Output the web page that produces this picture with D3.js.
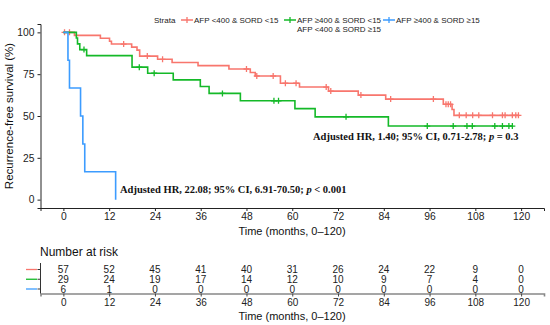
<!DOCTYPE html>
<html>
<head>
<meta charset="utf-8">
<script src="https://cdn.jsdelivr.net/npm/d3@7"></script>
<style>
  body { margin: 0; background: #fff; }
  svg { font-family: "Liberation Sans", Arial, sans-serif; }
</style>
</head>
<body>
<svg id="chart" width="550" height="325"></svg>
<script>
// strata
const strata = ["AFP <400 & SORD <15", "AFP \u2265400 & SORD <15", "AFP \u2265400 & SORD \u226515"];
const colors = ["#F8766D", "#14B928", "#3C9CFF"];

// KM steps: [month, survival % after the drop]
const redSteps = [[0, 100], [2.9, 98.2], [9.7, 96.5], [12.1, 94.7], [12.6, 93.0], [17.9, 91.2], [19.3, 89.4],
  [20.0, 85.8], [24.7, 83.9], [28.5, 82.0], [35.3, 80.1], [43.4, 78.1], [49.0, 76.0], [50.3, 73.9],
  [56.9, 69.6], [61.9, 67.3], [69.5, 64.9], [77.3, 62.5], [84.5, 60.1], [99.6, 57.0], [101.9, 53.9], [102.4, 50.4]];
const greenSteps = [[0, 100], [3.4, 96.6], [3.7, 93.1], [4.3, 89.7], [6.1, 86.1], [18.0, 79.2], [22.1, 75.6],
  [28.8, 71.6], [35.9, 67.6], [38.2, 63.5], [46.4, 59.1], [60.7, 54.4], [66.0, 49.5], [85.2, 44.0]];
const blueSteps = [[0, 100], [1.2, 83.3], [1.6, 66.7], [4.5, 50.0], [5.1, 33.3], [5.6, 16.7], [13.7, 0]];
const lastTime = [119.5, 117.9, 13.7];

// censored times
const redCensor = [0.3, 1.6, 15.8, 22.0, 26.0, 48.0, 50.7, 55.0, 58.2, 61.0, 68.9, 70.1, 78.0, 85.8, 97.0,
  100.3, 100.9, 101.5, 103.8, 105.6, 107.3, 108.9, 112.5, 115.1, 115.8, 117.7, 118.6, 119.3];
const greenCensor = [5.4, 19.9, 23.8, 41.7, 55.2, 56.4, 74.1, 95.4, 102.2, 105.8, 107.2, 113.1, 115.1, 116.8, 117.7];
const blueCensor = [];

// number at risk
const riskTimes = [0, 12, 24, 36, 48, 60, 72, 84, 96, 108, 120];
const riskRed = [57, 52, 45, 41, 40, 31, 26, 24, 22, 9, 0];
const riskGreen = [29, 24, 19, 17, 14, 12, 10, 9, 7, 4, 0];
const riskBlue = [6, 1, 0, 0, 0, 0, 0, 0, 0, 0, 0];

const yTicks = [0, 25, 50, 75, 100];

const steps = [redSteps, greenSteps, blueSteps];
const censors = [redCensor, greenCensor, blueCensor];
const risks = [riskRed, riskGreen, riskBlue];

const svg = d3.select("#chart");
const x = d3.scaleLinear().domain([-6, 126]).range([40.5, 544]);
const y = d3.scaleLinear().domain([-5, 105]).range([208, 24]);

function survAt(st, t) {
  let s = 100;
  st.forEach(function (d) { if (d[0] <= t) s = d[1]; });
  return s;
}

// axes
const yAxis = svg.append("g").attr("transform", "translate(40.5,0)")
  .call(d3.axisLeft(y).tickValues(yTicks).tickSize(3).tickPadding(3));
const xAxis = svg.append("g").attr("transform", "translate(0,208)")
  .call(d3.axisBottom(x).tickValues(riskTimes).tickSize(3).tickPadding(2));
[yAxis, xAxis].forEach(function (a) {
  a.select(".domain").attr("stroke", "#222").attr("stroke-width", 1);
  a.selectAll(".tick line").attr("stroke", "#222");
  a.selectAll("text").attr("fill", "#222").style("font-size", "10.3px");
});

svg.append("text").attr("transform", "translate(13,116) rotate(-90)")
  .attr("text-anchor", "middle").style("font-size", "11.5px").attr("fill", "#111")
  .text("Recurrence-free survival (%)");
svg.append("text").attr("x", 292).attr("y", 235).attr("text-anchor", "middle")
  .style("font-size", "11px").attr("fill", "#111").text("Time (months, 0\u2013120)");

// curves
const line = d3.line().x(function (d) { return x(d[0]); }).y(function (d) { return y(d[1]); })
  .curve(d3.curveStepAfter);
steps.forEach(function (st, i) {
  const pts = st.concat([[lastTime[i], st[st.length - 1][1]]]);
  svg.append("path").datum(pts).attr("d", line).attr("fill", "none")
    .attr("stroke", colors[i]).attr("stroke-width", 1.6);
  svg.selectAll(null).data(censors[i]).enter().append("path")
    .attr("d", function (t) {
      const cx = x(t), cy = y(survAt(st, t));
      return "M" + (cx - 3) + "," + cy + "H" + (cx + 3) + "M" + cx + "," + (cy - 3) + "V" + (cy + 3);
    })
    .attr("stroke", colors[i]).attr("stroke-width", 1.3);
});

// annotations
const ann1 = svg.append("text").attr("x", 120).attr("y", 193)
  .style("font-family", "'Liberation Serif', 'Times New Roman', serif").style("font-size", "10.5px")
  .style("font-weight", "bold").attr("fill", "#111");
ann1.append("tspan").text("Adjusted HR, 22.08; 95% CI, 6.91-70.50; ");
ann1.append("tspan").style("font-style", "italic").text("p");
ann1.append("tspan").text(" < 0.001");
const ann2 = svg.append("text").attr("x", 313).attr("y", 140)
  .style("font-family", "'Liberation Serif', 'Times New Roman', serif").style("font-size", "10.5px")
  .style("font-weight", "bold").attr("fill", "#111");
ann2.append("tspan").text("Adjusted HR, 1.40; 95% CI, 0.71-2.78; ");
ann2.append("tspan").style("font-style", "italic").text("p");
ann2.append("tspan").text(" = 0.3");

// legend
const lg = svg.append("g").style("font-size", "8px").attr("fill", "#222");
lg.append("text").attr("x", 154).attr("y", 23).text("Strata");
const keyX = [181, 284, 383];
strata.forEach(function (s, i) {
  lg.append("path").attr("d", "M" + keyX[i] + ",20H" + (keyX[i] + 12) + "M" + (keyX[i] + 6) + ",17V23")
    .attr("stroke", colors[i]).attr("stroke-width", 1.3);
  lg.append("text").attr("x", keyX[i] + 13).attr("y", 23).text(s);
});
lg.append("text").attr("x", 297).attr("y", 32).text("AFP <400 & SORD \u226515");

// risk table
svg.append("text").attr("x", 40).attr("y", 256).style("font-size", "12px").attr("fill", "#111")
  .text("Number at risk");
const ry = d3.scalePoint().domain([0, 1, 2]).range([269.5, 289]);
const rAxis = svg.append("g").attr("transform", "translate(0,293.5)")
  .call(d3.axisBottom(x).tickValues(riskTimes).tickSize(3).tickPadding(2));
rAxis.select(".domain").attr("stroke", "#888").attr("stroke-width", 1.6);
rAxis.selectAll(".tick line").attr("stroke", "#444");
rAxis.selectAll("text").attr("fill", "#222").style("font-size", "10px");
svg.append("line").attr("x1", 40.5).attr("x2", 40.5).attr("y1", 263).attr("y2", 293.5)
  .attr("stroke", "#333");
risks.forEach(function (r, i) {
  svg.append("line").attr("x1", 26).attr("x2", 37).attr("y1", ry(i)).attr("y2", ry(i))
    .attr("stroke", colors[i]).attr("stroke-width", 1.3);
  svg.append("line").attr("x1", 37.5).attr("x2", 40.5).attr("y1", ry(i)).attr("y2", ry(i))
    .attr("stroke", "#333");
  svg.selectAll(null).data(r).enter().append("text")
    .attr("x", function (d, j) { return x(riskTimes[j]); })
    .attr("y", ry(i) + 3.5).attr("text-anchor", "middle")
    .style("font-size", "10px").attr("fill", "#222")
    .text(function (d) { return d; });
});
svg.append("text").attr("x", 292).attr("y", 320).attr("text-anchor", "middle")
  .style("font-size", "11px").attr("fill", "#111").text("Time (months, 0\u2013120)");
</script>
</body>
</html>
